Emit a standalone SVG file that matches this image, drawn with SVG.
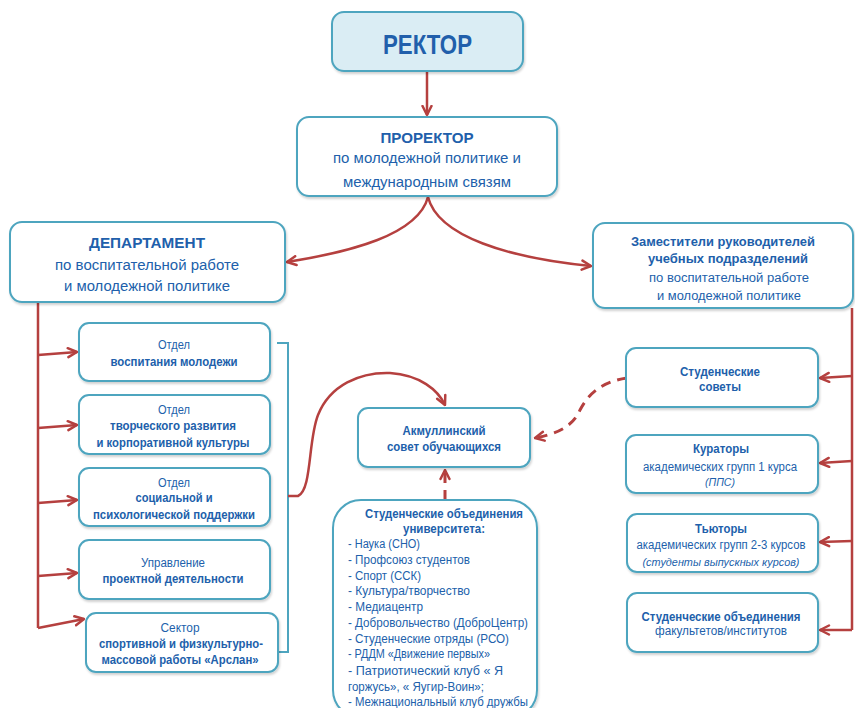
<svg xmlns="http://www.w3.org/2000/svg" width="855" height="708" viewBox="0 0 855 708">
<style>
.box{fill:#ffffff;stroke:#4ea5bf;stroke-width:2;filter:url(#sh)}
.t{font-family:"Liberation Sans",Arial,sans-serif;fill:#215fab;text-anchor:middle}
.b{font-weight:bold}
.i{font-style:italic}
.l{text-anchor:start}
.red{fill:none;stroke:#b5403f;stroke-width:2.5}
.dash{stroke-dasharray:10 7;stroke-width:3}
.teal{fill:none;stroke:#4ea5bf;stroke-width:2}
</style>
<defs>
<filter id="sh" x="-10%" y="-10%" width="120%" height="130%">
<feDropShadow dx="1" dy="2" stdDeviation="1.2" flood-color="#000" flood-opacity="0.18"/>
</filter>
<marker id="ah" viewBox="0 0 12 12" refX="10.5" refY="6" markerWidth="12" markerHeight="12" markerUnits="userSpaceOnUse" orient="auto">
<path d="M1.5,1.5 L10.5,6 L1.5,10.5" fill="none" stroke="#b5403f" stroke-width="2.5" stroke-linecap="round" stroke-linejoin="round"/>
</marker>
</defs>
<rect width="855" height="708" fill="#ffffff"/>

<g id="connectors">
<path class="red" d="M427,71 L427,115" marker-end="url(#ah)"/>
<path class="red" d="M428,197 C 418,235 350,252 287,262" marker-end="url(#ah)"/>
<path class="red" d="M428,197 C 438,237 510,258 591,266" marker-end="url(#ah)"/>
<path class="red" d="M38,301 L38,628"/>
<path class="red" d="M38,355 L77,352" marker-end="url(#ah)"/>
<path class="red" d="M38,428 L77,425" marker-end="url(#ah)"/>
<path class="red" d="M38,503 L77,500" marker-end="url(#ah)"/>
<path class="red" d="M38,576 L77,573" marker-end="url(#ah)"/>
<path class="red" d="M38,628 L84,619" marker-end="url(#ah)"/>
<path class="red" d="M852,308 L852,630"/>
<path class="red" d="M852,376 L820,378" marker-end="url(#ah)"/>
<path class="red" d="M852,461 L820,463" marker-end="url(#ah)"/>
<path class="red" d="M852,541 L820,542" marker-end="url(#ah)"/>
<path class="red" d="M852,630 L820,630" marker-end="url(#ah)"/>
<path class="teal" d="M277,343 L288,343 L288,652 L279,652"/>
<path class="red" d="M288,496 L298,496 C 312,490 308,440 318,415 C 330,385 360,372 390,373 C 420,375 438,390 445,405" marker-end="url(#ah)"/>
<path class="red dash" d="M627,378 C 600,382 588,395 580,410 C 572,428 555,434 535,438" marker-end="url(#ah)"/>
<path class="red dash" d="M445,500 L445,470" marker-end="url(#ah)"/>
</g>

<g id="rector">
<rect x="332" y="12" width="191" height="59" rx="12" fill="#daedf4" stroke="#4ea5bf" stroke-width="2" filter="url(#sh)"/>
<text class="t b" x="427.5" y="54" font-size="28" textLength="89" lengthAdjust="spacingAndGlyphs">РЕКТОР</text>
</g>

<g id="prorector">
<rect class="box" x="297" y="117" width="260" height="79" rx="12"/>
<text class="t b" x="427" y="143" font-size="15" textLength="93" lengthAdjust="spacingAndGlyphs">ПРОРЕКТОР</text>
<text class="t" x="427" y="163" font-size="15" textLength="188" lengthAdjust="spacingAndGlyphs">по молодежной политике и</text>
<text class="t" x="427" y="187" font-size="15" textLength="168" lengthAdjust="spacingAndGlyphs">международным связям</text>
</g>

<g id="department">
<rect class="box" x="10" y="222" width="275" height="80" rx="12"/>
<text class="t b" x="147" y="248" font-size="15" textLength="116" lengthAdjust="spacingAndGlyphs">ДЕПАРТАМЕНТ</text>
<text class="t" x="147" y="270" font-size="14" textLength="184" lengthAdjust="spacingAndGlyphs">по воспитательной работе</text>
<text class="t" x="147" y="291" font-size="14" textLength="166" lengthAdjust="spacingAndGlyphs">и молодежной политике</text>
</g>

<g id="deputies">
<rect class="box" x="593" y="223" width="260" height="85" rx="12"/>
<text class="t b" x="723" y="246" font-size="13" textLength="184" lengthAdjust="spacingAndGlyphs">Заместители руководителей</text>
<text class="t b" x="728" y="263" font-size="13" textLength="160" lengthAdjust="spacingAndGlyphs">учебных подразделений</text>
<text class="t" x="729" y="282" font-size="12.5" textLength="160" lengthAdjust="spacingAndGlyphs">по воспитательной работе</text>
<text class="t" x="729" y="300" font-size="12.5" textLength="144" lengthAdjust="spacingAndGlyphs">и молодежной политике</text>
</g>

<g id="otdel-vospitaniya">
<rect class="box" x="79" y="323" width="191" height="58" rx="10"/>
<text class="t" x="174" y="349" font-size="12.5" textLength="32" lengthAdjust="spacingAndGlyphs">Отдел</text>
<text class="t b" x="174" y="366" font-size="12" textLength="127" lengthAdjust="spacingAndGlyphs">воспитания молодежи</text>
</g>

<g id="otdel-tvorch">
<rect class="box" x="79" y="395" width="191" height="59" rx="10"/>
<text class="t" x="174" y="414" font-size="12.5" textLength="32" lengthAdjust="spacingAndGlyphs">Отдел</text>
<text class="t b" x="173" y="430" font-size="12" textLength="126" lengthAdjust="spacingAndGlyphs">творческого развития</text>
<text class="t b" x="173" y="447" font-size="12" textLength="153" lengthAdjust="spacingAndGlyphs">и корпоративной культуры</text>
</g>

<g id="otdel-social">
<rect class="box" x="79" y="468" width="191" height="58" rx="10"/>
<text class="t" x="174" y="487" font-size="12.5" textLength="32" lengthAdjust="spacingAndGlyphs">Отдел</text>
<text class="t b" x="174" y="502" font-size="12" textLength="77" lengthAdjust="spacingAndGlyphs">социальной и</text>
<text class="t b" x="174" y="519" font-size="12" textLength="162" lengthAdjust="spacingAndGlyphs">психологической поддержки</text>
</g>

<g id="upravlenie">
<rect class="box" x="79" y="540" width="191" height="59" rx="10"/>
<text class="t" x="173" y="567" font-size="12.5" textLength="64" lengthAdjust="spacingAndGlyphs">Управление</text>
<text class="t b" x="173" y="583" font-size="12" textLength="141" lengthAdjust="spacingAndGlyphs">проектной деятельности</text>
</g>

<g id="sektor">
<rect class="box" x="86" y="613" width="192" height="59" rx="10"/>
<text class="t" x="180" y="632" font-size="12.5" textLength="39" lengthAdjust="spacingAndGlyphs">Сектор</text>
<text class="t b" x="181" y="648" font-size="12" textLength="164" lengthAdjust="spacingAndGlyphs">спортивной и физкультурно-</text>
<text class="t b" x="180" y="664" font-size="12" textLength="157" lengthAdjust="spacingAndGlyphs">массовой работы «Арслан»</text>
</g>

<g id="akmulla">
<rect class="box" x="358" y="408" width="172" height="59" rx="10"/>
<text class="t b" x="444" y="435" font-size="12" textLength="83" lengthAdjust="spacingAndGlyphs">Акмуллинский</text>
<text class="t b" x="444" y="451" font-size="12" textLength="114" lengthAdjust="spacingAndGlyphs">совет обучающихся</text>
</g>

<g id="student-associations">
<rect class="box" x="333" y="500" width="204" height="218" rx="28"/>
<text class="t b" x="444" y="518" font-size="12" textLength="158" lengthAdjust="spacingAndGlyphs">Студенческие объединения</text>
<text class="t b" x="444" y="533" font-size="12" textLength="82" lengthAdjust="spacingAndGlyphs">университета:</text>
<text class="t l" x="348" y="548" font-size="12" textLength="72" lengthAdjust="spacingAndGlyphs">- Наука (СНО)</text>
<text class="t l" x="348" y="564" font-size="12" textLength="122" lengthAdjust="spacingAndGlyphs">- Профсоюз студентов</text>
<text class="t l" x="348" y="580" font-size="12" textLength="73" lengthAdjust="spacingAndGlyphs">- Спорт (ССК)</text>
<text class="t l" x="348" y="595" font-size="12" textLength="122" lengthAdjust="spacingAndGlyphs">- Культура/творчество</text>
<text class="t l" x="348" y="611" font-size="12" textLength="75" lengthAdjust="spacingAndGlyphs">- Медиацентр</text>
<text class="t l" x="348" y="627" font-size="12" textLength="180" lengthAdjust="spacingAndGlyphs">- Добровольчество (ДоброЦентр)</text>
<text class="t l" x="348" y="643" font-size="12" textLength="161" lengthAdjust="spacingAndGlyphs">- Студенческие отряды (РСО)</text>
<text class="t l" x="348" y="658" font-size="12" textLength="142" lengthAdjust="spacingAndGlyphs">- РДДМ «Движение первых»</text>
<text class="t l" x="348" y="675" font-size="12" textLength="155" lengthAdjust="spacingAndGlyphs">- Патриотический клуб « Я</text>
<text class="t l" x="348" y="691" font-size="12" textLength="136" lengthAdjust="spacingAndGlyphs">горжусь», « Яугир-Воин»;</text>
<text class="t l" x="348" y="706" font-size="12" textLength="180" lengthAdjust="spacingAndGlyphs">- Межнациональный клуб дружбы</text>
</g>

<g id="student-councils">
<rect class="box" x="626" y="348" width="192" height="59" rx="10"/>
<text class="t b" x="720" y="376" font-size="12" textLength="80" lengthAdjust="spacingAndGlyphs">Студенческие</text>
<text class="t b" x="720" y="391" font-size="12" textLength="42" lengthAdjust="spacingAndGlyphs">советы</text>
</g>

<g id="curators">
<rect class="box" x="626" y="435" width="192" height="58" rx="10"/>
<text class="t b" x="721" y="453" font-size="12.5" textLength="56" lengthAdjust="spacingAndGlyphs">Кураторы</text>
<text class="t" x="720" y="471" font-size="12" textLength="154" lengthAdjust="spacingAndGlyphs">академических групп 1 курса</text>
<text class="t i" x="720" y="486" font-size="11.5" textLength="30" lengthAdjust="spacingAndGlyphs">(ППС)</text>
</g>

<g id="tutors">
<rect class="box" x="627" y="514" width="191" height="58" rx="10"/>
<text class="t b" x="721" y="533" font-size="12.5" textLength="52" lengthAdjust="spacingAndGlyphs">Тьюторы</text>
<text class="t" x="721" y="549" font-size="12" textLength="169" lengthAdjust="spacingAndGlyphs">академических групп 2-3 курсов</text>
<text class="t i" x="721" y="566" font-size="11.5" textLength="157" lengthAdjust="spacingAndGlyphs">(студенты выпускных курсов)</text>
</g>

<g id="faculty-associations">
<rect class="box" x="627" y="593" width="191" height="59" rx="10"/>
<text class="t b" x="721" y="621" font-size="12" textLength="159" lengthAdjust="spacingAndGlyphs">Студенческие объединения</text>
<text class="t" x="721" y="635" font-size="12" textLength="132" lengthAdjust="spacingAndGlyphs">факультетов/институтов</text>
</g>
</svg>
